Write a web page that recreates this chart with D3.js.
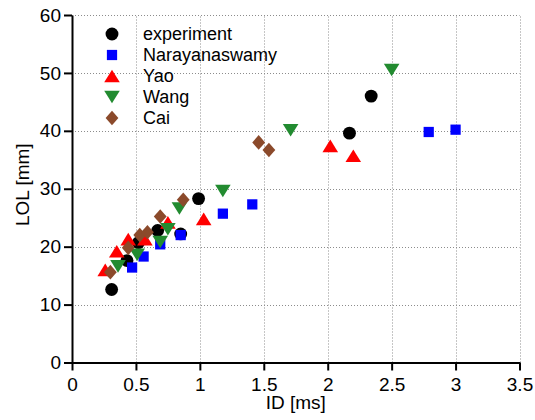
<!DOCTYPE html>
<html>
<head>
<meta charset="utf-8">
<script src="https://cdn.jsdelivr.net/npm/d3@7"></script>
<style>
  body { margin: 0; background: #fff; }
  svg text { font-family: "Liberation Sans", Arial, sans-serif; fill: #000; }
</style>
</head>
<body>
<div id="chart"></div>
<script>
// series data: [ID in ms, LOL in mm]
var experiment = [[0.31, 12.6], [0.43, 17.6], [0.52, 20.7], [0.67, 22.8], [0.85, 22.2], [0.99, 28.3], [2.17, 39.6], [2.34, 46.0]];
var narayanaswamy = [[0.47, 16.4], [0.56, 18.3], [0.69, 20.4], [0.85, 22.0], [1.18, 25.7], [1.41, 27.3], [2.79, 39.8], [3.0, 40.2]];
var yao = [[0.26, 16.0], [0.35, 19.2], [0.44, 21.3], [0.57, 21.3], [0.75, 24.2], [1.03, 24.8], [2.02, 37.4], [2.20, 35.7]];
var wang = [[0.36, 16.6], [0.51, 18.6], [0.69, 20.8], [0.75, 23.0], [0.84, 26.6], [1.18, 29.6], [1.71, 40.1], [2.5, 50.5]];
var cai = [[0.30, 15.6], [0.44, 19.8], [0.53, 22.0], [0.59, 22.5], [0.69, 25.2], [0.87, 28.1], [1.46, 38.0], [1.54, 36.7]];

var xTicks = [0, 0.5, 1, 1.5, 2, 2.5, 3, 3.5];
var yTicks = [0, 10, 20, 30, 40, 50, 60];

var width = 535, height = 420;
var margin = { left: 72, right: 15.5, top: 15, bottom: 57.5 };

// custom marker shapes (size argument ignored)
var triUp = { draw: function(c) { c.moveTo(0, -6.3); c.lineTo(7.8, 6.3); c.lineTo(-7.8, 6.3); c.closePath(); } };
var triDown = { draw: function(c) { c.moveTo(0, 6.3); c.lineTo(7.8, -6.3); c.lineTo(-7.8, -6.3); c.closePath(); } };
var diamond = { draw: function(c) { c.moveTo(0, -7.3); c.lineTo(6.4, 0); c.lineTo(0, 7.3); c.lineTo(-6.4, 0); c.closePath(); } };

var series = [
  { name: 'experiment', data: experiment, color: '#000000', shape: d3.symbol(d3.symbolCircle, 130) },
  { name: 'Narayanaswamy', data: narayanaswamy, color: '#0000ff', shape: d3.symbol(d3.symbolSquare, 105) },
  { name: 'Yao', data: yao, color: '#ff0000', shape: d3.symbol(triUp) },
  { name: 'Wang', data: wang, color: '#228b30', shape: d3.symbol(triDown) },
  { name: 'Cai', data: cai, color: '#8b4a2b', shape: d3.symbol(diamond) }
];

var svg = d3.select('#chart').append('svg')
  .attr('width', width)
  .attr('height', height);

var x = d3.scaleLinear().domain([0, 3.5]).range([margin.left, width - margin.right]);
var y = d3.scaleLinear().domain([0, 60]).range([height - margin.bottom, margin.top]);

// dotted grid
var grid = svg.append('g').attr('stroke', '#8c8c8c').attr('stroke-width', 1).attr('stroke-dasharray', '1,2');
grid.selectAll('.vx').data(xTicks).enter().append('line')
  .attr('x1', function(d) { return Math.round(x(d)) + 0.5; })
  .attr('x2', function(d) { return Math.round(x(d)) + 0.5; })
  .attr('y1', y(0)).attr('y2', y(60));
grid.selectAll('.hy').data(yTicks).enter().append('line')
  .attr('y1', function(d) { return Math.round(y(d)) + 0.5; })
  .attr('y2', function(d) { return Math.round(y(d)) + 0.5; })
  .attr('x1', x(0)).attr('x2', x(3.5));

// axes
var xAxis = d3.axisBottom(x).tickValues(xTicks).tickSize(8).tickSizeOuter(0).tickPadding(7)
  .tickFormat(function(d) { return String(d); });
var yAxis = d3.axisLeft(y).tickValues(yTicks).tickSize(8).tickSizeOuter(0).tickPadding(3);

var gx = svg.append('g').attr('transform', 'translate(0,' + y(0) + ')').call(xAxis);
var gy = svg.append('g').attr('transform', 'translate(' + x(0) + ',0)').call(yAxis);

[gx, gy].forEach(function(g) {
  g.select('.domain').attr('stroke', '#000').attr('stroke-width', 2);
  g.selectAll('.tick line').attr('stroke', '#000').attr('stroke-width', 2);
  g.selectAll('.tick text').attr('font-size', 19).attr('font-family', '"Liberation Sans", Arial, sans-serif');
});

// axis titles
svg.append('text')
  .attr('x', (x(0) + x(3.5)) / 2)
  .attr('y', 409)
  .attr('text-anchor', 'middle')
  .attr('font-size', 19)
  .text('ID [ms]');

svg.append('text')
  .attr('transform', 'translate(28.5,' + ((y(0) + y(60)) / 2 - 4) + ') rotate(-90)')
  .attr('text-anchor', 'middle')
  .attr('font-size', 19)
  .text('LOL [mm]');

// markers
series.forEach(function(s) {
  svg.append('g').selectAll('path').data(s.data).enter().append('path')
    .attr('d', s.shape)
    .attr('fill', s.color)
    .attr('transform', function(d) { return 'translate(' + x(d[0]) + ',' + y(d[1]) + ')'; });
});

// legend
var legend = svg.append('g').attr('transform', 'translate(112,34)');
var item = legend.selectAll('g').data(series).enter().append('g')
  .attr('transform', function(d, i) { return 'translate(0,' + (i * 21) + ')'; });
item.append('path')
  .attr('d', function(d) { return d.shape(); })
  .attr('fill', function(d) { return d.color; });
item.append('text')
  .attr('x', 31)
  .attr('dy', '0.35em')
  .attr('font-size', 18)
  .text(function(d) { return d.name; });
</script>
</body>
</html>
